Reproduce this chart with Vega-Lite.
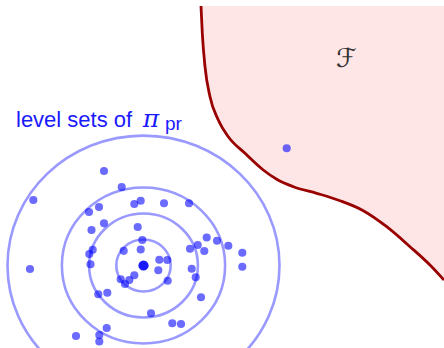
{
  "$schema": "https://vega.github.io/schema/vega-lite/v6.json",
  "width": 444,
  "height": 348,
  "padding": 0,
  "autosize": {"type": "fit", "contains": "padding"},
  "background": "white",
  "config": {"view": {"stroke": null}},
  "datasets": {
    "curve": [
      {"x": 2.114, "y": 9.540},
      {"x": 2.162, "y": 8.537},
      {"x": 2.261, "y": 7.309},
      {"x": 2.445, "y": 6.206},
      {"x": 2.750, "y": 5.349},
      {"x": 3.118, "y": 4.735},
      {"x": 3.732, "y": 4.125},
      {"x": 4.404, "y": 3.511},
      {"x": 4.897, "y": 3.169},
      {"x": 5.507, "y": 2.897},
      {"x": 6.368, "y": 2.654},
      {"x": 7.224, "y": 2.382},
      {"x": 8.081, "y": 2.015},
      {"x": 8.941, "y": 1.426},
      {"x": 9.798, "y": 0.691},
      {"x": 10.533, "y": 0.018},
      {"x": 11.048, "y": -0.533}
    ],
    "levels": [
      {"x": 0, "y": 0, "r": 1},
      {"x": 0, "y": 0, "r": 2},
      {"x": 0, "y": 0, "r": 3},
      {"x": 0, "y": 0, "r": 5}
    ],
    "samples": [
      {"x": -1.452, "y": 3.474},
      {"x": -0.801, "y": 2.886},
      {"x": -4.051, "y": 2.408},
      {"x": -0.338, "y": 2.261},
      {"x": -0.103, "y": 2.382},
      {"x": -1.636, "y": 2.151},
      {"x": -2.004, "y": 1.967},
      {"x": 0.754, "y": 2.287},
      {"x": 1.673, "y": 2.287},
      {"x": -1.452, "y": 1.551},
      {"x": -1.912, "y": 1.305},
      {"x": -0.213, "y": 1.415},
      {"x": -0.044, "y": 0.938},
      {"x": -0.728, "y": 0.540},
      {"x": -0.103, "y": 0.588},
      {"x": -1.868, "y": 0.581},
      {"x": -1.993, "y": 0.423},
      {"x": -1.949, "y": 0.044},
      {"x": -4.173, "y": -0.129},
      {"x": -0.838, "y": -0.507},
      {"x": -0.680, "y": -0.680},
      {"x": -0.522, "y": -0.533},
      {"x": -0.338, "y": -0.360},
      {"x": -1.662, "y": -1.059},
      {"x": -1.331, "y": -1.000},
      {"x": -1.353, "y": -2.298},
      {"x": -1.625, "y": -2.555},
      {"x": -1.625, "y": -2.794},
      {"x": -2.482, "y": -2.592},
      {"x": 5.265, "y": 4.309},
      {"x": 2.324, "y": 1.029},
      {"x": 2.702, "y": 0.912},
      {"x": 1.993, "y": 0.754},
      {"x": 1.710, "y": 0.618},
      {"x": 2.235, "y": 0.533},
      {"x": 3.118, "y": 0.728},
      {"x": 3.632, "y": 0.471},
      {"x": 3.632, "y": -0.044},
      {"x": 0.581, "y": 0.213},
      {"x": 0.875, "y": 0.202},
      {"x": 0.544, "y": -0.176},
      {"x": 1.772, "y": -0.118},
      {"x": 1.919, "y": -0.434},
      {"x": 0.890, "y": -0.559},
      {"x": 2.114, "y": -1.169},
      {"x": 0.276, "y": -1.757},
      {"x": 1.059, "y": -2.125},
      {"x": 1.379, "y": -2.151}
    ],
    "center": [{"x": 0, "y": 0}],
    "labelMain": [{"x": -4.688, "y": 5.103, "text": "level sets of"}],
    "labelPi": [{"x": -0.03, "y": 5.103, "text": "π"}],
    "labelSub": [{"x": 0.79, "y": 5.0, "text": "pr"}],
    "labelF": [{"x": 7.456, "y": 7.610, "text": "ℱ"}]
  },
  "encoding": {
    "x": {"field": "x", "type": "quantitative", "scale": {"domain": [-5.276, 11.048], "nice": false, "zero": false}, "axis": null},
    "y": {"field": "y", "type": "quantitative", "scale": {"domain": [-3.033, 9.761], "nice": false, "zero": false}, "axis": null}
  },
  "layer": [
    {
      "data": {"name": "curve"},
      "mark": {"type": "area", "interpolate": "monotone", "fill": "#ffe6e6", "clip": true},
      "encoding": {"y2": {"datum": 9.540}}
    },
    {
      "data": {"name": "curve"},
      "mark": {"type": "line", "interpolate": "monotone", "stroke": "#990000", "strokeWidth": 2.8, "clip": true},
      "encoding": {}
    },
    {
      "data": {"name": "levels"},
      "mark": {"type": "point", "shape": "M-1,0A1,0.955,0,1,1,1,0A1,0.955,0,1,1,-1,0Z", "filled": false, "stroke": "#9999ff", "strokeWidth": 2.6, "opacity": 1, "clip": true},
      "encoding": {
        "size": {"field": "r", "type": "quantitative", "scale": {"type": "pow", "exponent": 2, "domain": [0, 5], "range": [0, 73984]}, "legend": null}
      }
    },
    {
      "data": {"name": "samples"},
      "mark": {"type": "point", "shape": "circle", "filled": true, "fill": "#0000ff", "fillOpacity": 0.58, "strokeWidth": 0, "opacity": 1, "size": 66, "clip": true}
    },
    {
      "data": {"name": "center"},
      "mark": {"type": "point", "shape": "circle", "filled": true, "fill": "#1a1aff", "strokeWidth": 0, "opacity": 1, "size": 105, "clip": true}
    },
    {
      "data": {"name": "labelMain"},
      "mark": {"type": "text", "align": "left", "baseline": "alphabetic", "font": "Liberation Sans", "fontSize": 22, "fill": "#1a1aff"},
      "encoding": {"text": {"field": "text"}}
    },
    {
      "data": {"name": "labelPi"},
      "mark": {"type": "text", "align": "left", "baseline": "alphabetic", "font": "DejaVu Serif", "fontStyle": "italic", "fontSize": 25, "fill": "#1a1aff"},
      "encoding": {"text": {"field": "text"}}
    },
    {
      "data": {"name": "labelSub"},
      "mark": {"type": "text", "align": "left", "baseline": "alphabetic", "font": "Liberation Sans", "fontSize": 19, "fill": "#1a1aff"},
      "encoding": {"text": {"field": "text"}}
    },
    {
      "data": {"name": "labelF"},
      "mark": {"type": "text", "align": "center", "baseline": "middle", "font": "DejaVu Sans", "fontSize": 26, "fill": "#333333"},
      "encoding": {"text": {"field": "text"}}
    }
  ]
}
